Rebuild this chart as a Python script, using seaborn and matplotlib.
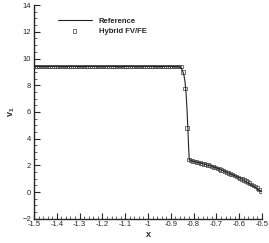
import numpy as np
import pandas as pd
import matplotlib
matplotlib.use("Agg")
import matplotlib.pyplot as plt
import seaborn as sns
from matplotlib.ticker import MultipleLocator

sns.set_style("ticks")
plt.rcParams["font.family"] = ["Liberation Sans", "DejaVu Sans"]
plt.rcParams["mathtext.fontset"] = "custom"
plt.rcParams["mathtext.bf"] = "Liberation Sans:bold"
plt.rcParams["mathtext.rm"] = "Liberation Sans"

# reference solution
x_ref = [-1.5, -0.87, -0.862, -0.855, -0.849, -0.843, -0.838, -0.833, -0.829,
         -0.825, -0.822, -0.819, -0.81, -0.8, -0.78, -0.76, -0.74, -0.72, -0.7,
         -0.68, -0.66, -0.64, -0.62, -0.6, -0.58, -0.56, -0.54, -0.52, -0.5]
y_ref = [9.4, 9.4, 9.38, 9.3, 9.1, 8.8, 8.3, 7.4, 6.2,
         4.7, 3.4, 2.42, 2.35, 2.30, 2.21, 2.12, 2.02, 1.92, 1.81,
         1.66, 1.52, 1.37, 1.22, 1.07, 0.89, 0.68, 0.46, 0.23, 0.0]

# hybrid FV/FE: 120 cell centres and cell values
n_cells = 120
x_hyb = -1.5 + (np.arange(n_cells) + 0.5) / n_cells
y_hyb = [9.4] * 77 + [9.38, 9.0, 7.75, 4.8, 2.42,
                      2.36, 2.32, 2.28, 2.25, 2.21, 2.17, 2.13, 2.09, 2.05,
                      2.01, 1.97, 1.92, 1.88, 1.83, 1.78, 1.72, 1.66, 1.60,
                      1.54, 1.48, 1.42, 1.36, 1.29, 1.23, 1.16, 1.10, 1.03,
                      0.97, 0.90, 0.82, 0.75, 0.67, 0.58, 0.49, 0.39, 0.29,
                      0.17, 0.05]

df_ref = pd.DataFrame({"x": x_ref, "v": y_ref})
df_hyb = pd.DataFrame({"x": x_hyb, "v": y_hyb})

fig = plt.figure(figsize=(2.69, 2.43), dpi=100)
ax = fig.add_axes([0.1264, 0.1, 0.8476, 0.879])

sns.lineplot(data=df_ref, x="x", y="v", ax=ax, color="#222222", lw=0.8,
             sort=False, label="Reference")
sns.scatterplot(data=df_hyb, x="x", y="v", ax=ax, marker="s", s=6,
                facecolor="none", edgecolor="#4d4d4d", linewidth=0.55,
                label="Hybrid FV/FE")

ax.set_xlim(-1.5, -0.5)
ax.set_ylim(-2, 14)
ax.xaxis.set_major_locator(MultipleLocator(0.1))
ax.xaxis.set_minor_locator(MultipleLocator(0.02))
ax.yaxis.set_major_locator(MultipleLocator(2))
ax.yaxis.set_minor_locator(MultipleLocator(0.5))
ax.set_xticks(ax.get_xticks())
ax.set_xticklabels([f"{t:g}" for t in np.round(ax.get_xticks(), 1)])
ax.set_xlim(-1.5, -0.5)
ax.tick_params(which="major", direction="in", length=4, width=0.8,
               labelsize=5.5, pad=2)
ax.tick_params(which="minor", direction="in", length=2, width=0.5)
for s in ["top", "right"]:
    ax.spines[s].set_visible(False)
for s in ["left", "bottom"]:
    ax.spines[s].set_linewidth(1.0)

ax.set_xlabel("x", fontsize=6.5, fontweight="bold", labelpad=1)
ax.set_ylabel(r"$\mathbf{v_1}$", fontsize=6.5, labelpad=4)

leg = ax.legend(loc="upper left", bbox_to_anchor=(0.09, 0.957), frameon=False,
                fontsize=5.5, handlelength=4.5, handletextpad=0.9,
                labelspacing=0.4, borderaxespad=0)
for t in leg.get_texts():
    t.set_fontweight("bold")

fig.savefig("out.png", dpi=100)
